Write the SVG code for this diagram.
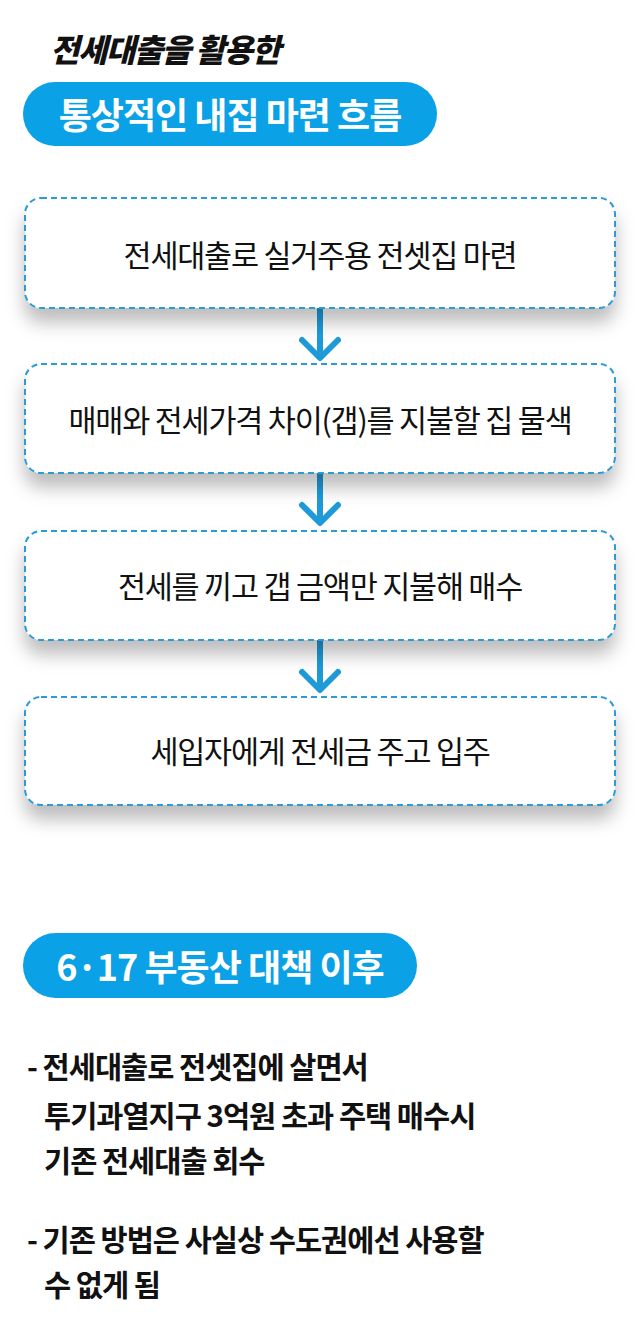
<svg xmlns="http://www.w3.org/2000/svg" width="640" height="1336" viewBox="0 0 640 1336">
<defs>
<filter id="sh" x="-10%" y="-20%" width="120%" height="170%">
<feDropShadow dx="0" dy="14" stdDeviation="9" flood-color="#000" flood-opacity="0.26"/>
</filter>
<style>
.box{fill:#fff;stroke:#2a9bd3;stroke-width:2;stroke-dasharray:6 4}
.bt{font-family:"Noto Sans CJK KR","Noto Sans",sans-serif;font-size:30.5px;fill:#111;text-anchor:middle;letter-spacing:-1.2px}
.pill{fill:#0aa1e6}
.pt{font-family:"Noto Sans CJK KR","Noto Sans",sans-serif;font-size:36px;font-weight:bold;fill:#fff;text-anchor:middle;letter-spacing:-1px}
.arr{stroke:#1e9ad9;stroke-width:6;fill:none;stroke-linecap:round;stroke-linejoin:round}
.nt{font-family:"Noto Sans CJK KR","Noto Sans",sans-serif;font-size:29.5px;font-weight:bold;fill:#111;letter-spacing:-1px}
</style>
</defs>
<rect width="640" height="1336" fill="#fff"/>
<g id="title">
<text x="50" y="62" font-family="Noto Sans CJK KR,Noto Sans,sans-serif" font-size="32" font-weight="900" font-style="italic" fill="#111" letter-spacing="-1.5">전세대출을 활용한</text>
</g>
<g id="pill1">
<rect class="pill" x="23" y="82" width="414" height="64" rx="32"/>
<text class="pt" x="230" y="129">통상적인 내집 마련 흐름</text>
</g>
<g id="connectors">
<path class="arr" d="M320 308V356M302 340L320 358L338 340"/>
<path class="arr" d="M320 473V522M302 505L320 523L338 505"/>
<path class="arr" d="M320 640V689M302 672L320 690L338 672"/>
</g>
<g id="step1">
<rect class="box" x="25" y="198" width="590" height="110" rx="16" filter="url(#sh)"/>
<text class="bt" x="320" y="267">전세대출로 실거주용 전셋집 마련</text>
</g>
<g id="step2">
<rect class="box" x="25" y="364" width="590" height="109" rx="16" filter="url(#sh)"/>
<text class="bt" x="320" y="432">매매와 전세가격 차이(갭)를 지불할 집 물색</text>
</g>
<g id="step3">
<rect class="box" x="25" y="531" width="590" height="109" rx="16" filter="url(#sh)"/>
<text class="bt" x="320" y="598">전세를 끼고 갭 금액만 지불해 매수</text>
</g>
<g id="step4">
<rect class="box" x="25" y="697" width="590" height="108" rx="16" filter="url(#sh)"/>
<text class="bt" x="320" y="763">세입자에게 전세금 주고 입주</text>
</g>
<g id="pill2">
<rect class="pill" x="23" y="933" width="394" height="65" rx="32.5"/>
<text class="pt" x="220" y="981">6·17 부동산 대책 이후</text>
</g>
<g id="notes">
<text class="nt" x="27" y="1078">- 전세대출로 전셋집에 살면서</text>
<text class="nt" x="44" y="1127">투기과열지구 3억원 초과 주택 매수시</text>
<text class="nt" x="44" y="1172">기존 전세대출 회수</text>
<text class="nt" x="27" y="1251">- 기존 방법은 사실상 수도권에선 사용할</text>
<text class="nt" x="44" y="1296">수 없게 됨</text>
</g>
</svg>
